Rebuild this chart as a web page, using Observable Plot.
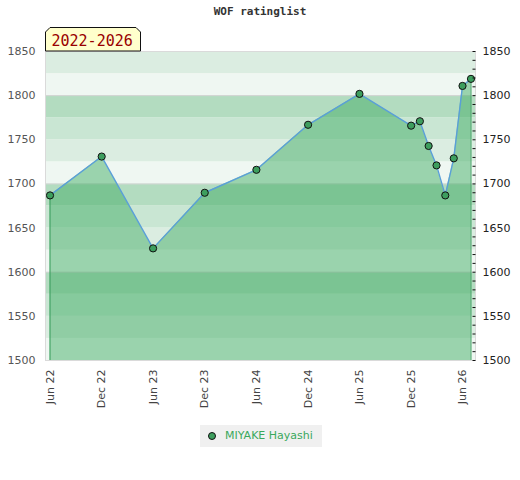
<!DOCTYPE html>
<html>
<head>
<meta charset="utf-8">
<script src="https://cdn.jsdelivr.net/npm/d3@7"></script>
<script src="https://cdn.jsdelivr.net/npm/@observablehq/plot@0.6"></script>
<style>
  body { margin: 0; background: #fff; }
  #wrap { position: relative; width: 520px; height: 480px; font-family: "DejaVu Sans", sans-serif; }
  #title { position: absolute; left: 0; width: 520px; top: 5px; text-align: center;
           font-family: "DejaVu Sans Mono", monospace; font-weight: bold; font-size: 11px; color: #333; }
  #badge { position: absolute; left: 44px; top: 26px; }
  #legend { position: absolute; left: 200px; top: 425px; width: 122px; height: 22px; background: #f0f0f0;
            font-size: 11px; color: #3aa85c; line-height: 22px; }
  #legend .dot { position: absolute; left: 8px; top: 7px; width: 6px; height: 6px; border-radius: 50%;
                 background: #3d9e5e; border: 1px solid #111; }
  #legend span.t { position: absolute; left: 25px; top: 0; }
  #chart { position: absolute; left: 0; top: 0; }
</style>
</head>
<body>
<div id="wrap">
  <div id="chart"></div>
  <div id="title">WOF ratinglist</div>
  <svg id="badge" width="100" height="27">
    <polygon points="1.5,6 6,1.5 92,1.5 96.5,6 96.5,25 1.5,25" fill="#ffffcc" stroke="#111" stroke-width="1"/>
    <text x="7.5" y="19.5" font-family="DejaVu Sans Mono, monospace" font-size="15" fill="#990000">2022-2026</text>
  </svg>
  <div id="legend"><div class="dot"></div><span class="t">MIYAKE Hayashi</span></div>
</div>
<script>
const dates = ["2022-06-01","2022-12-01","2023-06-01","2023-12-01","2024-06-01","2024-12-01","2025-06-01",
               "2025-12-01","2026-01-01","2026-02-01","2026-03-01","2026-04-01","2026-05-01","2026-06-01","2026-07-01"];
const ratings = [1687, 1731, 1627, 1690, 1716, 1767, 1802, 1766, 1771, 1743, 1721, 1687, 1729, 1811, 1819];
const player = "MIYAKE Hayashi";
const yTicks = [1500, 1550, 1600, 1650, 1700, 1750, 1800, 1850];
const xTickDates = ["2022-06-01","2022-12-01","2023-06-01","2023-12-01","2024-06-01","2024-12-01","2025-06-01","2025-12-01","2026-06-01"];

const data = dates.map((d, i) => ({date: new Date(d), rating: ratings[i]}));
const xDomain = [new Date("2022-05-16"), new Date("2026-07-17")];
const yDomain = [1500, 1850];
const bandColors = ["#eff7f2", "#dbede1", "#c9e6d3", "#b3dcc0"];
const bands = d3.range(1500, 1850, 25).map((lo, i) => ({lo, hi: lo + 25, color: bandColors[i % 4]}));
const minorTicks = d3.range(1500, 1851, 10);

const chart = Plot.plot({
  width: 520,
  height: 415,
  marginTop: 51,
  marginBottom: 55,
  marginLeft: 45,
  marginRight: 45,
  style: {fontFamily: "DejaVu Sans, sans-serif", fontSize: "11px", background: "transparent"},
  x: {type: "utc", domain: xDomain},
  y: {domain: yDomain},
  marks: [
    Plot.rect(bands, {x1: () => xDomain[0], x2: () => xDomain[1], y1: "lo", y2: "hi", fill: "color"}),
    Plot.ruleY([1600, 1700, 1800], {stroke: "#d4d4d4"}),
    Plot.areaY(data, {x: "date", y1: 1500, y2: "rating", fill: "#3ca960", fillOpacity: 0.47}),
    Plot.ruleX([data[0], data[data.length - 1]], {x: "date", y1: 1500, y2: "rating", stroke: "#3a9d5d", strokeWidth: 1}),
    Plot.line(data, {x: "date", y: "rating", stroke: "#5a9fd8", strokeWidth: 1.4}),
    Plot.dot(data, {x: "date", y: "rating", r: 3.6, fill: "#3d9e5e", stroke: "#111", strokeWidth: 1}),
    Plot.frame({stroke: "#dadada"}),
    Plot.axisY({anchor: "left", ticks: yTicks, tickFormat: "d", tickSize: 0, tickPadding: 10, fill: "#555", label: null}),
    Plot.axisY({anchor: "right", ticks: yTicks, tickFormat: "d", tickSize: 0, tickPadding: 7, fill: "#222", label: null}),
    Plot.axisY({anchor: "right", ticks: minorTicks, tickSize: 3, dx: -3.5, text: null, label: null, stroke: "#111"}),
    Plot.axisX({ticks: xTickDates.map(d => new Date(d)), tickFormat: d3.utcFormat("%b %y"), tickRotate: -90,
                tickSize: 0, tickPadding: 9, fill: "#444", label: null})
  ]
});
document.getElementById("chart").appendChild(chart);
</script>
</body>
</html>
